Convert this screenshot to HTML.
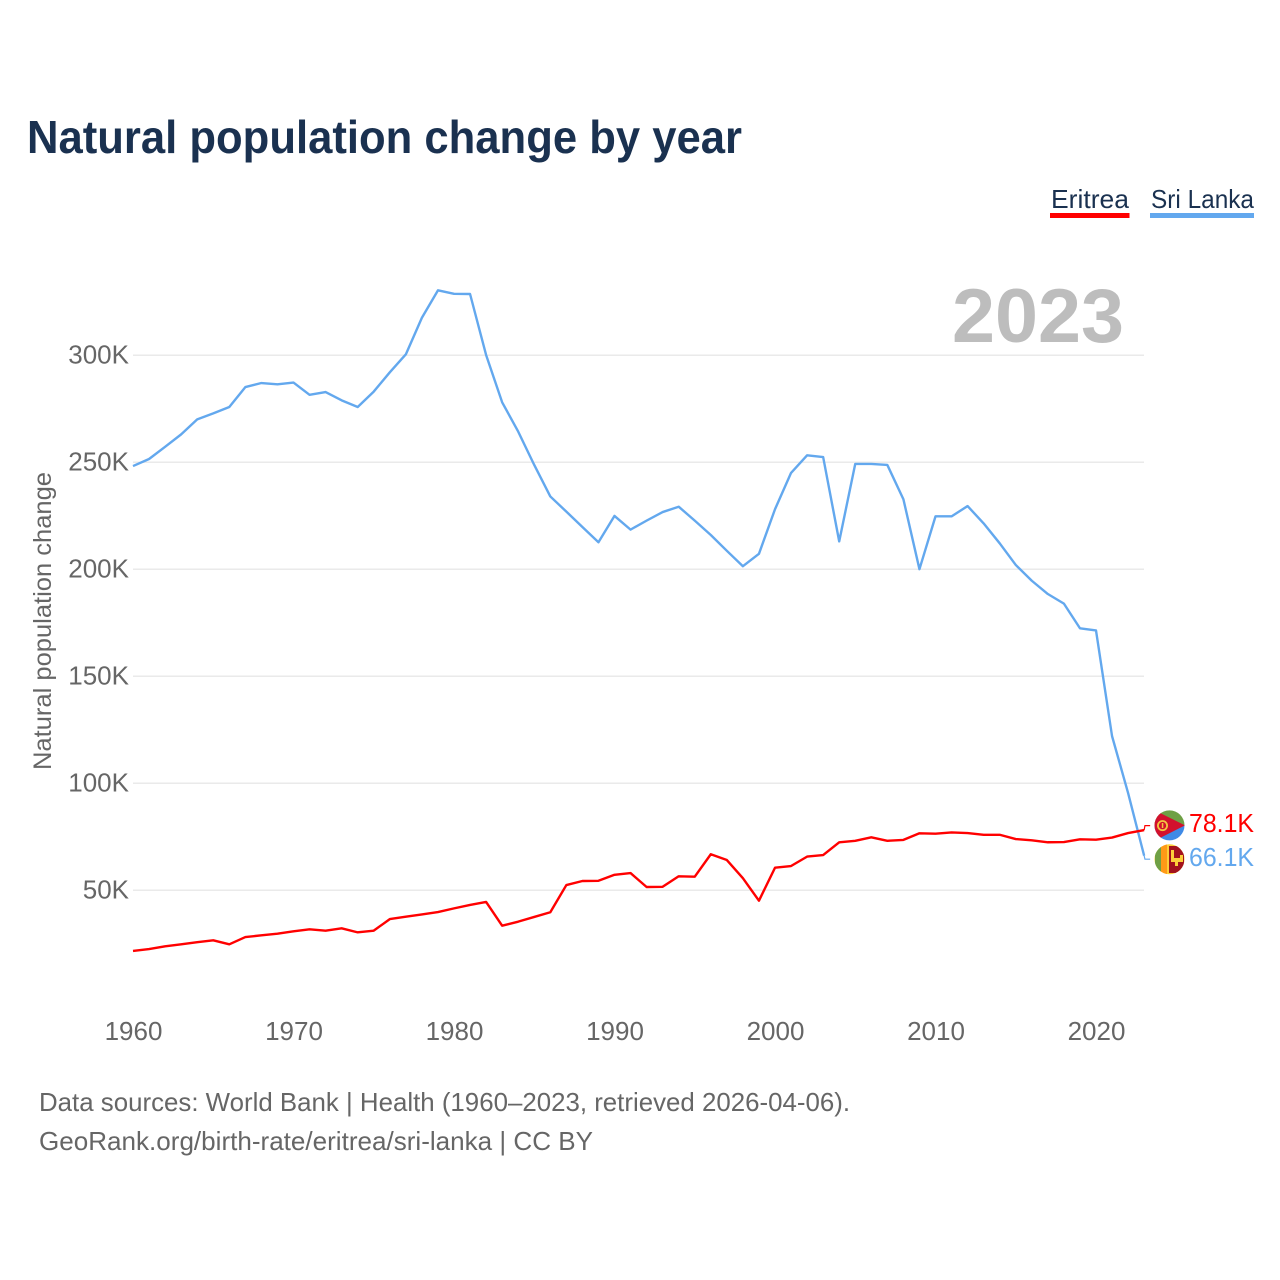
<!DOCTYPE html>
<html lang="en">
<head>
<meta charset="utf-8">
<title>Natural population change by year</title>
<style>
  html, body { margin: 0; padding: 0; background: #fff; }
  svg { display: block; font-family: "Liberation Sans", sans-serif; }
</style>
</head>
<body>
<svg id="chart" xmlns="http://www.w3.org/2000/svg" width="1280" height="1280" viewBox="0 0 1280 1280">
  <defs>
    <clipPath id="clip-er"><circle cx="1169.5" cy="825.4" r="15"/></clipPath>
    <clipPath id="clip-lk"><circle cx="1169.5" cy="859.3" r="15"/></clipPath>
  </defs>
  <rect x="0" y="0" width="1280" height="1280" fill="#fff"/>

  <text x="27" y="153" font-size="46" font-weight="700" fill="#1a3150" textLength="715" lengthAdjust="spacingAndGlyphs">Natural population change by year</text>

  <g>
    <g>
      <text x="1051" y="208" font-size="26" fill="#1a3150" textLength="78" lengthAdjust="spacingAndGlyphs">Eritrea</text>
      <rect x="1050" y="213" width="79.5" height="5" fill="#ff0000"/>
    </g>
    <g>
      <text x="1151" y="208" font-size="26" fill="#1a3150" textLength="103" lengthAdjust="spacingAndGlyphs">Sri Lanka</text>
      <rect x="1150" y="213" width="104" height="5" fill="#63a8ee"/>
    </g>
  </g>

  <text transform="translate(51 621) rotate(-90)" text-anchor="middle" font-size="25" fill="#666" textLength="298" lengthAdjust="spacingAndGlyphs">Natural population change</text>

  <g id="grid"></g>
  <g id="y-ticks"></g>
  <g id="x-ticks"></g>

  <text x="952" y="342" font-size="76" font-weight="700" fill="#bdbdbd" textLength="172" lengthAdjust="spacingAndGlyphs">2023</text>

  <g id="series"></g>

  <g clip-path="url(#clip-er)">
    <rect x="1154" y="810" width="31" height="16" fill="#6ea045"/>
    <rect x="1154" y="825.4" width="31" height="16" fill="#3f8ae6"/>
    <polygon points="1154,810 1185,825.4 1154,841" fill="#d2112d"/>
    <circle cx="1162.5" cy="825.6" r="4.6" fill="none" stroke="#f2c640" stroke-width="1.8"/>
    <rect x="1161.8" y="823" width="1.5" height="5" fill="#f2c640"/>
  </g>
  <g clip-path="url(#clip-lk)">
    <rect x="1154" y="844" width="31" height="31" fill="#fcd03a"/>
    <rect x="1155" y="844" width="6" height="31" fill="#6ea045"/>
    <rect x="1161" y="844" width="6" height="31" fill="#ff9a17"/>
    <rect x="1169" y="846" width="15" height="27" fill="#a3131d"/>
    <polygon points="1171,850 1174,850 1174,858 1180,858 1180,855 1183,855 1183,862 1178,862 1178,866 1175,866 1175,862 1171,862" fill="#fcd03a"/>
  </g>

  <g id="end-labels"></g>

  <g>
    <text x="39" y="1111" font-size="26" fill="#666" textLength="811" lengthAdjust="spacingAndGlyphs">Data sources: World Bank | Health (1960–2023, retrieved 2026-04-06).</text>
    <text x="39" y="1150" font-size="26" fill="#666" textLength="554" lengthAdjust="spacingAndGlyphs">GeoRank.org/birth-rate/eritrea/sri-lanka | CC BY</text>
  </g>
</svg>
<script>
const startYear = 1960;
const xTickYears = [1960, 1970, 1980, 1990, 2000, 2010, 2020];
const yTickValues = [50, 100, 150, 200, 250, 300];
const yTickLabels = ['50K', '100K', '150K', '200K', '250K', '300K'];
const eritreaValues = [21.6,22.5,23.8,24.7,25.7,26.6,24.7,28.1,28.9,29.7,30.8,31.7,31.1,32.2,30.3,31.1,36.5,37.6,38.7,39.8,41.5,43.1,44.5,33.4,35.3,37.5,39.7,52.4,54.3,54.4,57.2,58,51.5,51.6,56.5,56.3,66.8,64.1,55.6,45.1,60.5,61.3,65.7,66.4,72.4,73.1,74.7,73.1,73.5,76.6,76.4,77,76.7,75.9,75.9,73.9,73.3,72.4,72.5,73.8,73.6,74.6,76.7,78.1];
const sriLankaValues = [248.2,251.5,257.2,263,270,272.8,275.8,285.1,287,286.4,287.2,281.5,282.8,278.9,275.8,283,292,300.4,317.5,330.3,328.7,328.6,300.1,278,264.3,248.7,234,226.9,219.7,212.6,224.9,218.5,222.7,226.7,229.2,222.7,216,208.6,201.4,207.2,228,245,253.2,252.4,213,249.2,249.2,248.7,232.7,200,224.7,224.7,229.5,221.4,212.1,202,194.6,188.4,183.9,172.4,171.4,122,95.4,66.1];

const NS = 'http://www.w3.org/2000/svg';
function xScale(year) { return 133 + (year - startYear) * 16.05; }
function yScale(value) { return 997.2 - value * 2.14; }
function make(tag, attrs, parent, text) {
  const el = document.createElementNS(NS, tag);
  for (const k in attrs) el.setAttribute(k, attrs[k]);
  if (text !== undefined) el.textContent = text;
  parent.appendChild(el);
  return el;
}
function linePoints(values) {
  return values.map((v, i) => xScale(startYear + i).toFixed(2) + ',' + yScale(v).toFixed(2)).join(' ');
}

const gridG = document.getElementById('grid');
const yTicksG = document.getElementById('y-ticks');
const xTicksG = document.getElementById('x-ticks');
const seriesG = document.getElementById('series');
const labelsG = document.getElementById('end-labels');

yTickValues.forEach((v, i) => {
  const line = make('line', { x1: 133, x2: 1144, y1: yScale(v), y2: yScale(v), stroke: '#eaeaea', 'stroke-width': 1.5 }, gridG);
  
  
  const t = make('text', { x: 129, y: yScale(v) + 8.5, 'text-anchor': 'end', 'font-size': 26, fill: '#666' }, yTicksG, yTickLabels[i]);
  
  
});

xTickYears.forEach((year) => {
  const t = make('text', { x: xScale(year) + 0.5, y: 1040, 'text-anchor': 'middle', 'font-size': 26, fill: '#666' }, xTicksG, String(year));
  
  
});

const srLine = make('polyline', { points: linePoints(sriLankaValues), fill: 'none', stroke: '#63a8ee', 'stroke-width': 2.4, 'stroke-linejoin': 'round' }, seriesG);



const erLine = make('polyline', { points: linePoints(eritreaValues), fill: 'none', stroke: '#ff0000', 'stroke-width': 2.4, 'stroke-linejoin': 'round' }, seriesG);



const lastYear = startYear + eritreaValues.length - 1;
const lastX = xScale(lastYear);

const erConnector = make('polyline', { points: lastX + ',' + yScale(eritreaValues[eritreaValues.length - 1]) + ' ' + (lastX + 0.8) + ',825.6 ' + (lastX + 6) + ',825.6', fill: 'none', stroke: '#ff0000', 'stroke-width': 1.2 }, seriesG);



const srConnector = make('polyline', { points: lastX + ',' + yScale(sriLankaValues[sriLankaValues.length - 1]) + ' ' + (lastX + 0.8) + ',859.2 ' + (lastX + 6) + ',859.2', fill: 'none', stroke: '#63a8ee', 'stroke-width': 1.2 }, seriesG);



const erLabel = make('text', { x: 1189, y: 832, 'font-size': 26, fill: '#ff0000', textLength: 65, lengthAdjust: 'spacingAndGlyphs' }, labelsG, eritreaValues[eritreaValues.length - 1].toFixed(1) + 'K');



const srLabel = make('text', { x: 1189, y: 866, 'font-size': 26, fill: '#63a8ee', textLength: 65, lengthAdjust: 'spacingAndGlyphs' }, labelsG, sriLankaValues[sriLankaValues.length - 1].toFixed(1) + 'K');


</script>
</body>
</html>
